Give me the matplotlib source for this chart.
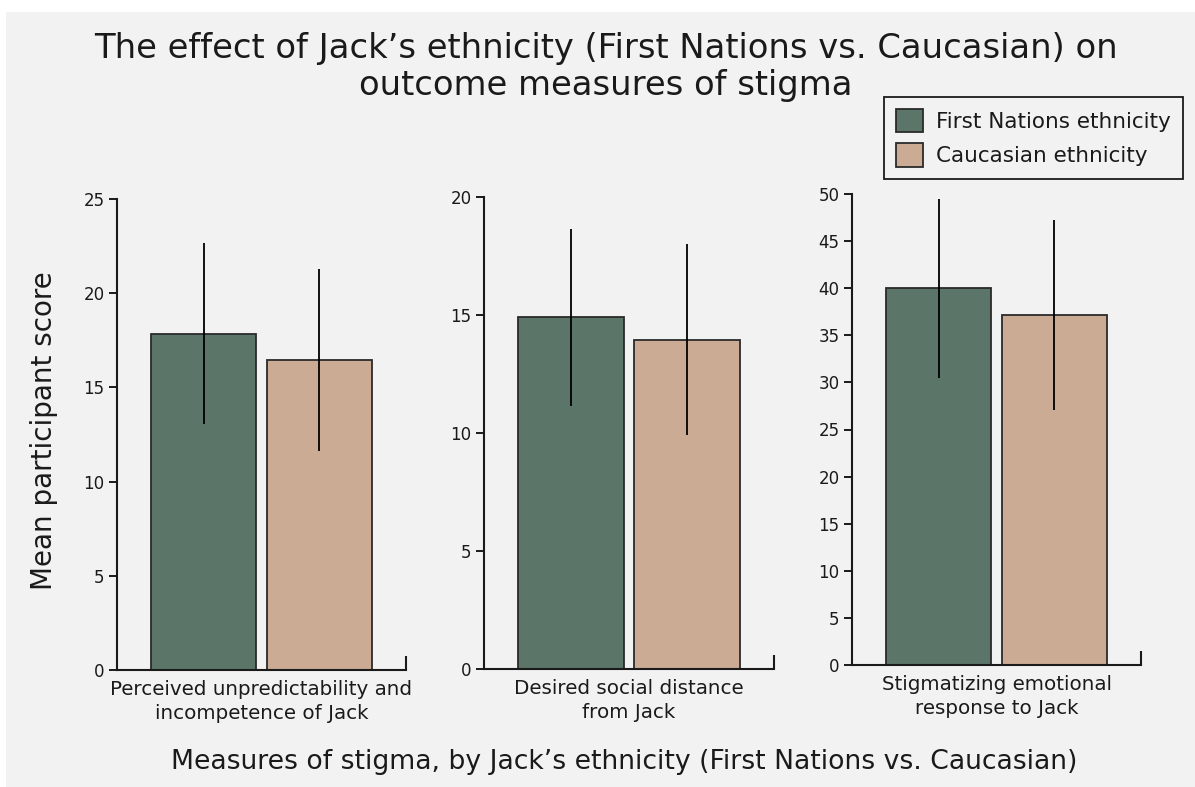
import matplotlib
matplotlib.use("Agg")
import matplotlib.pyplot as plt
from matplotlib.patches import Patch, Rectangle

# ---- data ----
groups = ["First Nations ethnicity", "Caucasian ethnicity"]
measures = ["Perceived unpredictability and\nincompetence of Jack",
            "Desired social distance\nfrom Jack",
            "Stigmatizing emotional\nresponse to Jack"]
first_nations_means = [17.85, 14.9, 40.0]
caucasian_means = [16.45, 13.95, 37.15]
first_nations_sd = [4.8, 3.75, 9.5]
caucasian_sd = [4.85, 4.05, 10.05]
y_max = [25, 20, 50]
y_step = [5, 5, 5]

title = "The effect of Jack\u2019s ethnicity (First Nations vs. Caucasian) on\noutcome measures of stigma"
xlabel = "Measures of stigma, by Jack\u2019s ethnicity (First Nations vs. Caucasian)"
ylabel = "Mean participant score"

# ---- style ----
FONT = "DejaVu Sans"
plt.rcParams["font.family"] = [FONT]
BG = "#f2f2f2"
GREEN = "#5b7569"
TAN = "#cbab94"
EDGE = "#2a2a2a"
TXT = "#1a1a1a"

W, H = 1195, 787
fig = plt.figure(figsize=(W / 100, H / 100), dpi=100, facecolor="white")
fig.patches.append(Rectangle((6 / W, 0), 1 - 6 / W, (H - 12) / H,
                             transform=fig.transFigure, facecolor=BG,
                             edgecolor="none", zorder=-10))

# panel boxes in pixels: left, right, top, bottom
panels = [(117, 406, 199, 670), (484, 774, 197, 669), (852, 1141, 194, 665)]

for i, (l, r, t, b) in enumerate(panels):
    ax = fig.add_axes([l / W, (H - b) / H, (r - l) / W, (b - t) / H])
    ax.set_facecolor("none")
    ax.bar([0], [first_nations_means[i]], width=0.91, color=GREEN,
           edgecolor=EDGE, linewidth=1.3, zorder=2)
    ax.bar([1], [caucasian_means[i]], width=0.91, color=TAN,
           edgecolor=EDGE, linewidth=1.3, zorder=2)
    ax.errorbar([0, 1], [first_nations_means[i], caucasian_means[i]],
                yerr=[first_nations_sd[i], caucasian_sd[i]], fmt="none",
                ecolor="black", elinewidth=1.3, capsize=0, zorder=3)
    ax.set_xlim(-0.75, 1.75)
    ax.set_ylim(0, y_max[i])
    ax.set_yticks(list(range(0, y_max[i] + 1, y_step[i])))
    for s in ["top", "right"]:
        ax.spines[s].set_visible(False)
    for s in ["left", "bottom"]:
        ax.spines[s].set_linewidth(1.5)
        ax.spines[s].set_color(TXT)
    ax.tick_params(axis="y", direction="out", length=6, width=1.4,
                   labelsize=12, colors=TXT, pad=3)
    ax.set_xticks([1.75])
    ax.set_xticklabels([""])
    ax.tick_params(axis="x", direction="in", length=10, width=1.5, colors=TXT)
    ax.set_xlabel(measures[i], fontsize=14.3, color=TXT, labelpad=4,
                  linespacing=1.3)

fig.text(606 / W, 1 - 67 / H, title, ha="center", va="center", fontsize=24.3,
         color=TXT, linespacing=1.12)
fig.text(624 / W, 1 - 762 / H, xlabel, ha="center", va="center",
         fontsize=19.2, color=TXT)
fig.text(44 / W, 1 - 431 / H, ylabel, ha="center", va="center",
         fontsize=20, color=TXT, rotation=90)

handles = [Patch(facecolor=GREEN, edgecolor=EDGE, linewidth=1.3),
           Patch(facecolor=TAN, edgecolor=EDGE, linewidth=1.3)]
leg = fig.legend(handles, groups, loc="upper right",
                 bbox_to_anchor=(1183 / W, 1 - 97 / H), fontsize=15.5,
                 frameon=True, fancybox=False, facecolor=BG, edgecolor=TXT,
                 framealpha=1, handlelength=1.3, handleheight=1.3,
                 labelspacing=0.52, borderpad=0.55, borderaxespad=0,
                 handletextpad=0.6)
leg.get_frame().set_linewidth(1.3)
for t in leg.get_texts():
    t.set_color(TXT)

fig.savefig("out.png", dpi=100, facecolor="white")
